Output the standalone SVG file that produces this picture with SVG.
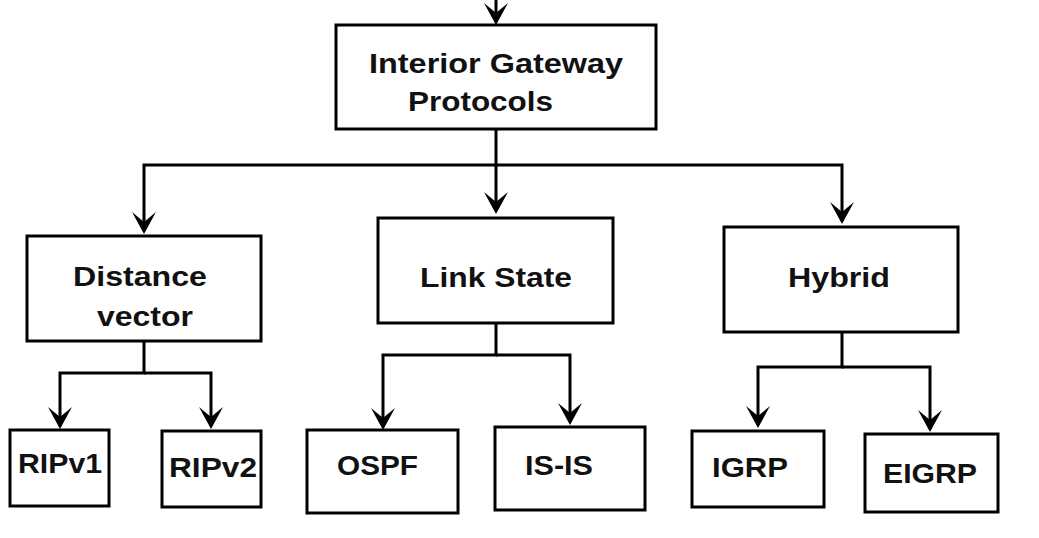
<svg xmlns="http://www.w3.org/2000/svg" width="1039" height="538" viewBox="0 0 1039 538">
<style>
.box{fill:#fff;stroke:#000;stroke-width:3}
.lbl{font-family:"Liberation Sans",Arial,sans-serif;font-weight:bold;font-size:28px;fill:#111}
.con{fill:none;stroke:#000;stroke-width:3}
</style>
<defs>
<marker id="arr" viewBox="0 0 22 24" refX="19" refY="12" markerWidth="22" markerHeight="24" markerUnits="userSpaceOnUse" orient="auto">
<path d="M0,0 L22,12 L0,24 L10,12 Z" fill="#000"/>
</marker>
</defs>
<rect width="1039" height="538" fill="#fff"/>
<g id="connectors">
<path class="con" d="M496,0 V22" marker-end="url(#arr)"/>
<path class="con" d="M496,129 V211" marker-end="url(#arr)"/>
<path class="con" d="M496,165 H144 V231" marker-end="url(#arr)"/>
<path class="con" d="M496,165 H842 V221" marker-end="url(#arr)"/>
<path class="con" d="M144,341 V373 H60 V426" marker-end="url(#arr)"/>
<path class="con" d="M144,373 H211 V426" marker-end="url(#arr)"/>
<path class="con" d="M496,323 V355 H383 V427" marker-end="url(#arr)"/>
<path class="con" d="M496,355 H570 V422" marker-end="url(#arr)"/>
<path class="con" d="M842,332 V367 H758 V425" marker-end="url(#arr)"/>
<path class="con" d="M842,367 H930 V429" marker-end="url(#arr)"/>
</g>
<g id="igp">
<rect class="box" x="336" y="25" width="320" height="104"/>
<text class="lbl" x="369" y="73" textLength="254" lengthAdjust="spacingAndGlyphs">Interior Gateway</text>
<text class="lbl" x="408" y="111" textLength="145" lengthAdjust="spacingAndGlyphs">Protocols</text>
</g>
<g id="distance-vector">
<rect class="box" x="27" y="236" width="234" height="105"/>
<text class="lbl" x="73" y="286" textLength="134" lengthAdjust="spacingAndGlyphs">Distance</text>
<text class="lbl" x="97" y="326" textLength="96" lengthAdjust="spacingAndGlyphs">vector</text>
</g>
<g id="link-state">
<rect class="box" x="378" y="218" width="235" height="105"/>
<text class="lbl" x="420" y="287" textLength="152" lengthAdjust="spacingAndGlyphs">Link State</text>
</g>
<g id="hybrid">
<rect class="box" x="724" y="227" width="234" height="105"/>
<text class="lbl" x="788" y="287" textLength="102" lengthAdjust="spacingAndGlyphs">Hybrid</text>
</g>
<g id="ripv1">
<rect class="box" x="10" y="430" width="99" height="76"/>
<text class="lbl" x="18" y="473" textLength="84" lengthAdjust="spacingAndGlyphs">RIPv1</text>
</g>
<g id="ripv2">
<rect class="box" x="162" y="431" width="99" height="76"/>
<text class="lbl" x="169" y="477" textLength="88" lengthAdjust="spacingAndGlyphs">RIPv2</text>
</g>
<g id="ospf">
<rect class="box" x="307" y="430" width="151" height="83"/>
<text class="lbl" x="337" y="475" textLength="81" lengthAdjust="spacingAndGlyphs">OSPF</text>
</g>
<g id="isis">
<rect class="box" x="495" y="427" width="150" height="83"/>
<text class="lbl" x="525" y="475" textLength="68" lengthAdjust="spacingAndGlyphs">IS-IS</text>
</g>
<g id="igrp">
<rect class="box" x="692" y="431" width="132" height="76"/>
<text class="lbl" x="712" y="477" textLength="76" lengthAdjust="spacingAndGlyphs">IGRP</text>
</g>
<g id="eigrp">
<rect class="box" x="865" y="434" width="133" height="78"/>
<text class="lbl" x="883" y="483" textLength="94" lengthAdjust="spacingAndGlyphs">EIGRP</text>
</g>
</svg>
